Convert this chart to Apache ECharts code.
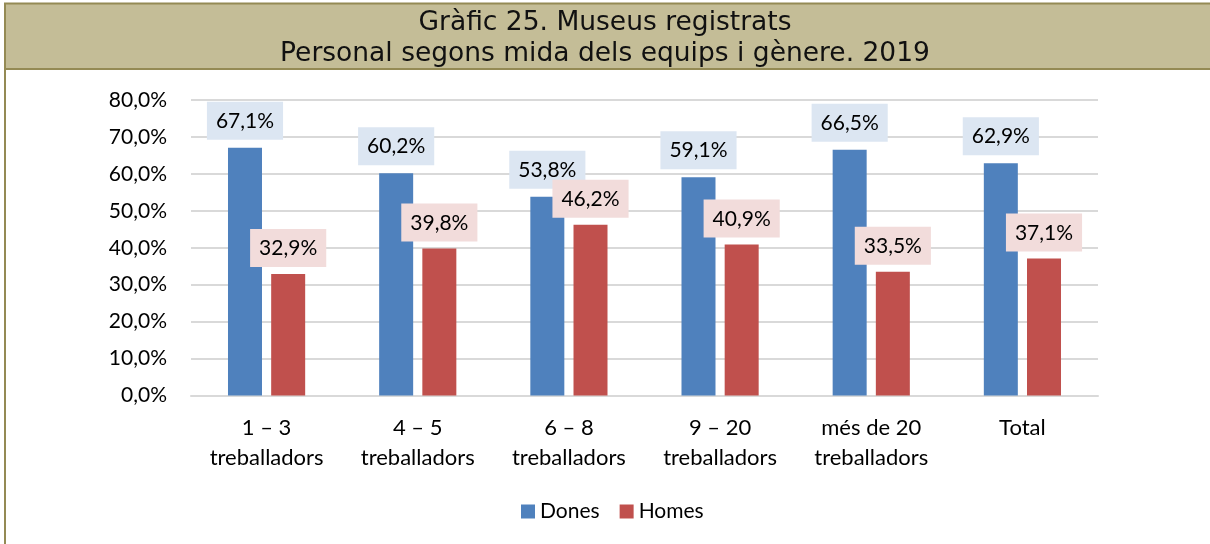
<!DOCTYPE html>
<html>
<head>
<meta charset="utf-8">
<script src="https://cdn.jsdelivr.net/npm/echarts@6/dist/echarts.min.js"></script>
<style>
html,body{margin:0;padding:0;background:#fff;}
#chart{width:1210px;height:544px;}
</style>
</head>
<body>
<div id="chart"></div>
<script>
const titleLines = ['Gràfic 25. Museus registrats', 'Personal segons mida dels equips i gènere. 2019'];
const categories = ['1 – 3\ntreballadors', '4 – 5\ntreballadors', '6 – 8\ntreballadors', '9 – 20\ntreballadors', 'més de 20\ntreballadors', 'Total'];
const seriesNames = ['Dones', 'Homes'];
const dones = [67.1, 60.2, 53.8, 59.1, 66.5, 62.9];
const homes = [32.9, 39.8, 46.2, 40.9, 33.5, 37.1];
const yMin = 0, yMax = 80, yStep = 10;

const FONT = 'Lato';
const fmt = v => v.toFixed(1).replace('.', ',') + '%';

const chart = echarts.init(document.getElementById('chart'), null, {renderer: 'canvas'});
chart.setOption({
  backgroundColor: '#ffffff',
  animation: false,
  graphic: [
    {type: 'rect', z: 0, shape: {x: 5, y: 3.5, width: 1220, height: 65.5}, style: {fill: '#C4BD97', stroke: '#948A54', lineWidth: 2}},
    {type: 'line', z: 0, shape: {x1: 5, y1: 3.5, x2: 5, y2: 560}, style: {stroke: '#948A54', lineWidth: 2}}
  ],
  title: {
    text: titleLines.join('\n'),
    left: 'center',
    top: 3,
    textStyle: {fontFamily: 'DejaVu Sans', fontSize: 26.5, fontWeight: 'normal', color: '#111', lineHeight: 31}
  },
  legend: {
    data: seriesNames,
    left: 516,
    top: 496,
    itemWidth: 14,
    itemHeight: 14,
    itemGap: 20,
    icon: 'rect',
    textStyle: {fontFamily: FONT, fontSize: 21, color: '#000'}
  },
  grid: {left: 191, right: 112, top: 100, bottom: 148.5, containLabel: false},
  xAxis: {
    type: 'category',
    data: categories,
    axisTick: {show: false},
    axisLine: {lineStyle: {color: '#D9D9D9', width: 2}},
    axisLabel: {fontFamily: FONT, fontSize: 22, color: '#000', lineHeight: 30, margin: 17, interval: 0}
  },
  yAxis: {
    type: 'value',
    min: yMin, max: yMax, interval: yStep,
    axisLine: {show: false},
    axisTick: {show: false},
    splitLine: {lineStyle: {color: '#D9D9D9', width: 2}},
    axisLabel: {fontFamily: FONT, fontSize: 21, color: '#000', margin: 24, formatter: v => fmt(v)}
  },
  series: [
    {
      name: seriesNames[0], type: 'bar', data: dones, barWidth: 34, barGap: '27%',
      itemStyle: {color: '#4F81BD'},
      label: {show: true, position: 'top', distance: 8, formatter: p => fmt(p.value),
        fontFamily: FONT, fontSize: 21, lineHeight: 21, color: '#000', backgroundColor: '#DCE6F2', padding: [9, 9, 8, 9]}
    },
    {
      name: seriesNames[1], type: 'bar', data: homes, barWidth: 34,
      itemStyle: {color: '#C0504D'},
      label: {show: true, position: 'top', distance: 7, formatter: p => fmt(p.value),
        fontFamily: FONT, fontSize: 21, lineHeight: 21, color: '#000', backgroundColor: '#F2DCDB', padding: [9, 9, 8, 9]}
    }
  ]
});
</script>
</body>
</html>
